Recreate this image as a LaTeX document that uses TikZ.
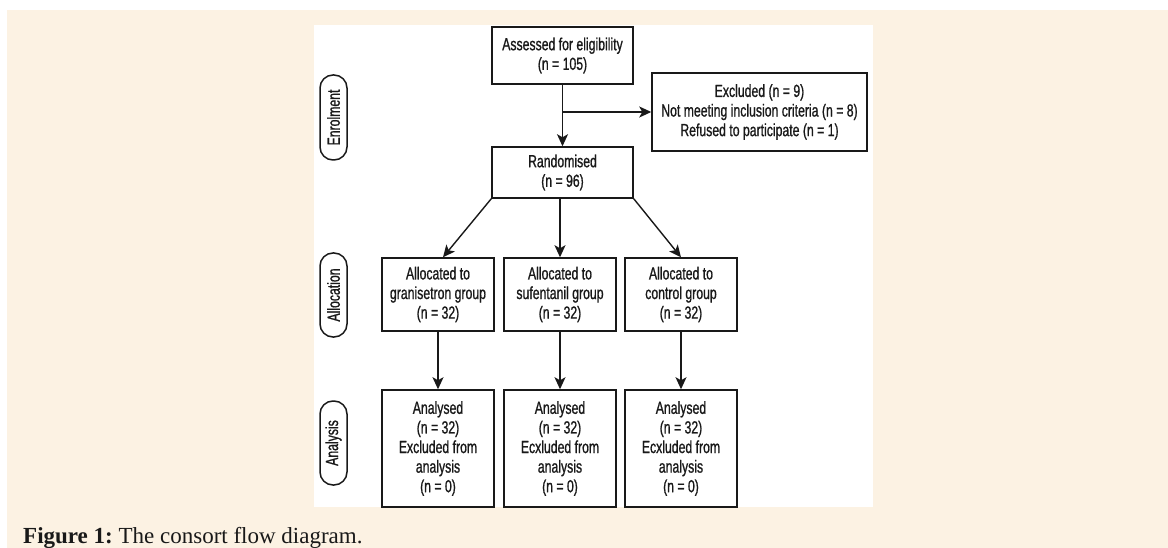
\documentclass[tikz,border=0pt]{standalone}
\usepackage{fontspec}
\setmainfont{Liberation Serif}
\newfontfamily\diagfont[FakeStretch=0.7,FakeBold=0.9]{Liberation Sans}
\usetikzlibrary{arrows.meta}
\definecolor{cream}{RGB}{252,242,227}
\definecolor{ink}{RGB}{25,25,25}
\begin{document}
\frenchspacing
\begin{tikzpicture}[x=1pt,y=-1pt,
  box/.style={draw=ink, line width=1.5pt, fill=white, align=center, inner sep=0pt,
    font=\diagfont\fontsize{17.5}{19.6}\selectfont, text=ink},
  pill/.style={draw=ink, line width=1.5pt, rounded corners=13pt, rotate=90, inner sep=0pt,
    minimum height=27pt, font=\diagfont\fontsize{17.5}{19.6}\selectfont, text=ink},
  arr/.style={draw=ink, line width=1.4pt, -{Stealth[length=12pt,width=11pt,inset=3pt]}},
  ln/.style={draw=ink, line width=1.4pt}]
\useasboundingbox (0,0) rectangle (1168,548);
\fill[cream] (7,10) rectangle (1168,548);
\fill[white] (314,25) rectangle (873,507);

\node[box, minimum width=141pt, minimum height=57pt] (assess) at (562.5,55.5)
  {Assessed for eligibility\\(n = 105)};
\node[box, minimum width=215pt, minimum height=78pt] (excl) at (759.5,112)
  {Excluded (n = 9)\\Not meeting inclusion criteria (n = 8)\\Refused to participate (n = 1)};
\node[box, minimum width=141pt, minimum height=51pt] (rand) at (562.5,172.5)
  {Randomised\\(n = 96)};

\node[box, minimum width=112pt, minimum height=73pt] (al1) at (438,294.5)
  {Allocated to\\granisetron group\\(n = 32)};
\node[box, minimum width=112pt, minimum height=73pt] (al2) at (560,294.5)
  {Allocated to\\sufentanil group\\(n = 32)};
\node[box, minimum width=112pt, minimum height=73pt] (al3) at (681,294.5)
  {Allocated to\\control group\\(n = 32)};

\node[box, minimum width=112pt, minimum height=117pt] (an1) at (438,448.5)
  {Analysed\\(n = 32)\\Excluded from\\analysis\\(n = 0)};
\node[box, minimum width=112pt, minimum height=117pt] (an2) at (560,448.5)
  {Analysed\\(n = 32)\\Ecxluded from\\analysis\\(n = 0)};
\node[box, minimum width=112pt, minimum height=117pt] (an3) at (681,448.5)
  {Analysed\\(n = 32)\\Ecxluded from\\analysis\\(n = 0)};

\node[pill, minimum width=85pt] (penr) at (333.5,117.5) {Enrolment};
\node[pill, minimum width=84pt] (palloc) at (333.5,295) {Allocation};
\node[pill, minimum width=84pt] (panal) at (333.5,443) {Analysis};

\draw[arr] (assess.south) -- (rand.north);
\draw[arr] (assess.south |- excl.west) -- (excl.west);
\draw[arr] (rand.south west) -- ([xshift=5pt]al1.north);
\draw[arr] (rand.south -| al2.north) -- (al2.north);
\draw[arr] (rand.south east) -- (al3.north);
\draw[arr] (al1.south) -- (an1.north);
\draw[arr] (al2.south) -- (an2.north);
\draw[arr] (al3.south) -- (an3.north);

\node[anchor=base west, inner sep=0pt, font=\fontsize{23}{27}\selectfont, text=ink] (cap) at (23,543)
  {\textbf{Figure 1:} The consort flow diagram.};
\end{tikzpicture}
\end{document}
